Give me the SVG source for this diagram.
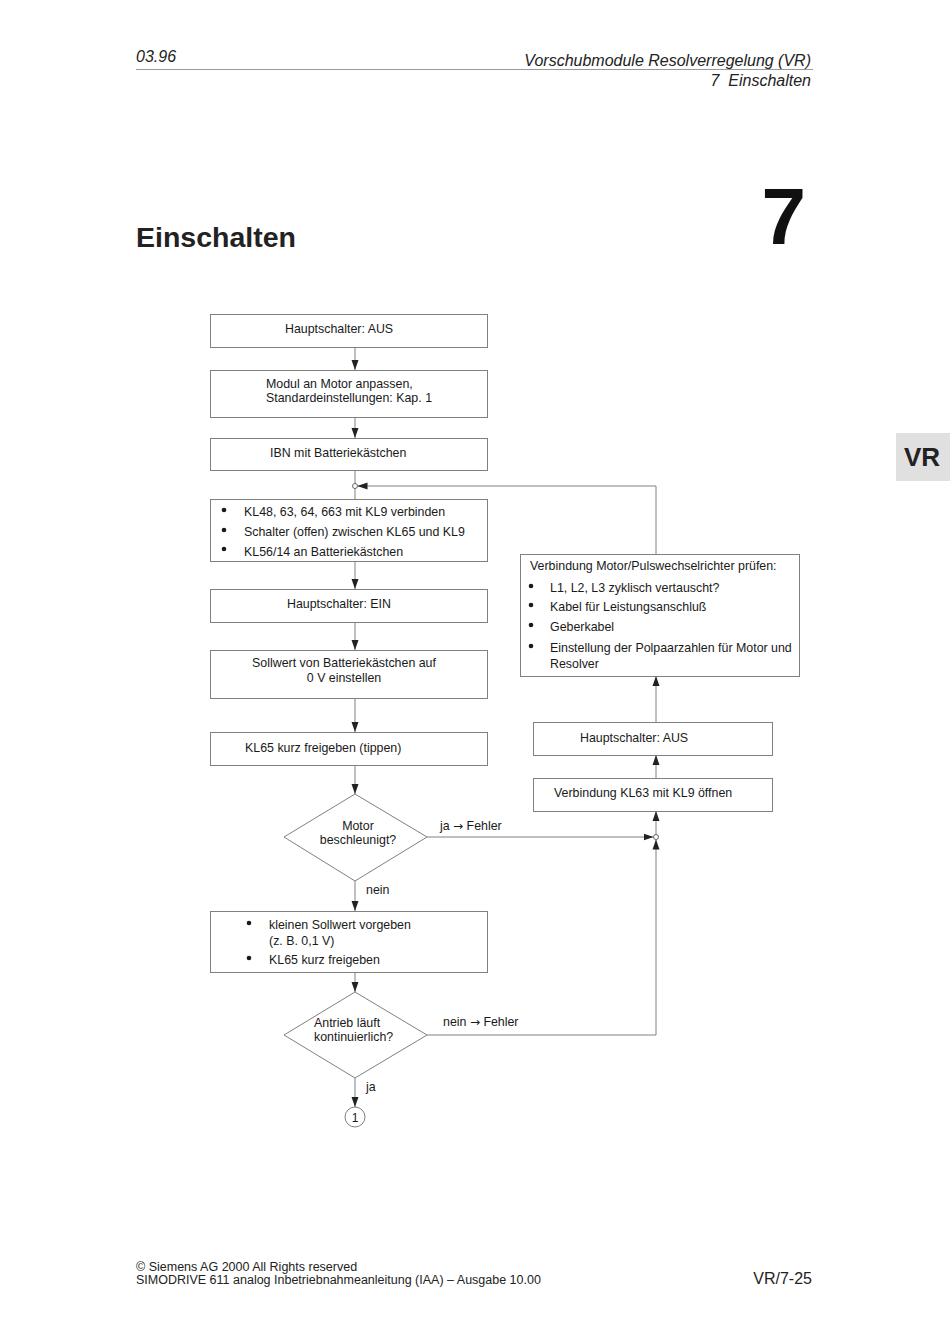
<svg xmlns="http://www.w3.org/2000/svg" width="950" height="1344" viewBox="0 0 950 1344">
<style>
.t{font-family:"Liberation Sans",Arial,sans-serif;font-size:12.4px;fill:#1a1a1a}
.hd{font-family:"Liberation Sans",Arial,sans-serif;font-style:italic;font-size:16px;fill:#222}
.ft{font-family:"Liberation Sans",Arial,sans-serif;font-size:12.5px;fill:#222}
.box{fill:#fff;stroke:#808080;stroke-width:1}
.ln{fill:none;stroke:#808080;stroke-width:1}
.dot{fill:#1a1a1a}
.jn{fill:#fff;stroke:#666;stroke-width:1}
.big{font-family:"DejaVu Sans",sans-serif;font-size:12px}
</style>
<defs>
<marker id="ar" viewBox="0 0 10 10" refX="10" refY="5" markerWidth="10" markerHeight="10" markerUnits="userSpaceOnUse" orient="auto">
<path d="M0,1.5 L10,5 L0,8.5 Z" fill="#222"/>
</marker>
</defs>
<rect width="950" height="1344" fill="#fff"/>

<g id="header">
<text class="hd" x="136" y="62">03.96</text>
<text class="hd" x="811" y="66" text-anchor="end">Vorschubmodule Resolverregelung (VR)</text>
<line x1="136" y1="69.5" x2="813" y2="69.5" stroke="#999" stroke-width="1.2"/>
<text class="hd" x="811" y="86" text-anchor="end" xml:space="preserve">7  Einschalten</text>
<text x="136" y="247" style="font-family:'Liberation Sans',Arial,sans-serif;font-weight:bold;font-size:28.5px;fill:#222">Einschalten</text>
<text x="806" y="244" text-anchor="end" style="font-family:'Liberation Sans',Arial,sans-serif;font-weight:bold;font-size:80px;fill:#111">7</text>
<rect x="896" y="433" width="54" height="48" fill="#e0e0e0"/>
<text x="922" y="466" text-anchor="middle" style="font-family:'Liberation Sans',Arial,sans-serif;font-weight:bold;font-size:26px;fill:#222">VR</text>
</g>

<g id="connectors">
<line class="ln" x1="355" y1="347" x2="355" y2="370" marker-end="url(#ar)"/>
<line class="ln" x1="355" y1="417" x2="355" y2="438" marker-end="url(#ar)"/>
<line class="ln" x1="355" y1="470" x2="355" y2="483.5"/>
<line class="ln" x1="355" y1="488.5" x2="355" y2="499"/>
<line class="ln" x1="355" y1="561" x2="355" y2="589" marker-end="url(#ar)"/>
<line class="ln" x1="355" y1="622" x2="355" y2="650" marker-end="url(#ar)"/>
<line class="ln" x1="355" y1="698" x2="355" y2="732" marker-end="url(#ar)"/>
<line class="ln" x1="355" y1="765" x2="355" y2="794" marker-end="url(#ar)"/>
<line class="ln" x1="355" y1="881" x2="355" y2="911" marker-end="url(#ar)"/>
<line class="ln" x1="355" y1="972" x2="355" y2="992" marker-end="url(#ar)"/>
<line class="ln" x1="355" y1="1078" x2="355" y2="1107" marker-end="url(#ar)"/>
<line class="ln" x1="427" y1="837" x2="653.5" y2="837" marker-end="url(#ar)"/>
<polyline class="ln" points="427,1035 656,1035 656,839.5" marker-end="url(#ar)"/>
<line class="ln" x1="656" y1="834.5" x2="656" y2="811" marker-end="url(#ar)"/>
<line class="ln" x1="656" y1="778" x2="656" y2="755" marker-end="url(#ar)"/>
<line class="ln" x1="656" y1="722" x2="656" y2="676" marker-end="url(#ar)"/>
<polyline class="ln" points="656,554 656,486 357.5,486" marker-end="url(#ar)"/>
<circle class="jn" cx="355" cy="486" r="2.5"/>
<circle class="jn" cx="656" cy="837" r="2.5"/>
<text class="t" x="440" y="830">ja <tspan class="big">→</tspan> Fehler</text>
<text class="t" x="366" y="894">nein</text>
<text class="t" x="443" y="1026">nein <tspan class="big">→</tspan> Fehler</text>
<text class="t" x="366" y="1091">ja</text>
</g>

<g id="n1">
<rect class="box" x="210.5" y="314.5" width="277" height="33"/>
<text class="t" x="285" y="333">Hauptschalter: AUS</text>
</g>
<g id="n2">
<rect class="box" x="210.5" y="370.5" width="277" height="47"/>
<text class="t" x="266" y="388">Modul an Motor anpassen,</text>
<text class="t" x="266" y="402">Standardeinstellungen: Kap. 1</text>
</g>
<g id="n3">
<rect class="box" x="210.5" y="438.5" width="277" height="32"/>
<text class="t" x="270" y="457">IBN mit Batteriekästchen</text>
</g>
<g id="n4">
<rect class="box" x="210.5" y="499.5" width="277" height="62"/>
<circle class="dot" cx="224" cy="510" r="2.3"/>
<circle class="dot" cx="224" cy="530" r="2.3"/>
<circle class="dot" cx="224" cy="549" r="2.3"/>
<text class="t" x="244" y="516">KL48, 63, 64, 663 mit KL9 verbinden</text>
<text class="t" x="244" y="536">Schalter (offen) zwischen KL65 und KL9</text>
<text class="t" x="244" y="556">KL56/14 an Batteriekästchen</text>
</g>
<g id="n5">
<rect class="box" x="210.5" y="589.5" width="277" height="33"/>
<text class="t" x="287" y="608">Hauptschalter: EIN</text>
</g>
<g id="n6">
<rect class="box" x="210.5" y="650.5" width="277" height="48"/>
<text class="t" x="344" y="667" text-anchor="middle">Sollwert von Batteriekästchen auf</text>
<text class="t" x="344" y="682" text-anchor="middle">0 V einstellen</text>
</g>
<g id="n7">
<rect class="box" x="210.5" y="732.5" width="277" height="33"/>
<text class="t" x="245" y="752">KL65 kurz freigeben (tippen)</text>
</g>
<g id="d1">
<polygon class="box" points="355,794 427,837 355,881 284,837"/>
<text class="t" x="358" y="830" text-anchor="middle">Motor</text>
<text class="t" x="358" y="844" text-anchor="middle">beschleunigt?</text>
</g>
<g id="n8">
<rect class="box" x="210.5" y="911.5" width="277" height="61"/>
<circle class="dot" cx="249" cy="923" r="2.3"/>
<circle class="dot" cx="249" cy="958" r="2.3"/>
<text class="t" x="269" y="929">kleinen Sollwert vorgeben</text>
<text class="t" x="269" y="945">(z. B. 0,1 V)</text>
<text class="t" x="269" y="964">KL65 kurz freigeben</text>
</g>
<g id="d2">
<polygon class="box" points="355,992 427,1035 355,1078 284,1035"/>
<text class="t" x="314" y="1027">Antrieb läuft</text>
<text class="t" x="314" y="1041">kontinuierlich?</text>
</g>
<g id="c1">
<circle class="box" cx="355" cy="1117" r="10"/>
<text class="t" x="355" y="1121.5" text-anchor="middle" style="font-size:12px">1</text>
</g>
<g id="r1">
<rect class="box" x="520.5" y="554.5" width="279" height="122"/>
<text class="t" x="530" y="570">Verbindung Motor/Pulswechselrichter prüfen:</text>
<circle class="dot" cx="531" cy="586" r="2.3"/>
<circle class="dot" cx="531" cy="605" r="2.3"/>
<circle class="dot" cx="531" cy="625" r="2.3"/>
<circle class="dot" cx="531" cy="646" r="2.3"/>
<text class="t" x="550" y="592">L1, L2, L3 zyklisch vertauscht?</text>
<text class="t" x="550" y="611">Kabel für Leistungsanschluß</text>
<text class="t" x="550" y="631">Geberkabel</text>
<text class="t" x="550" y="652">Einstellung der Polpaarzahlen für Motor und</text>
<text class="t" x="550" y="668">Resolver</text>
</g>
<g id="r2">
<rect class="box" x="533.5" y="722.5" width="239" height="33"/>
<text class="t" x="580" y="742">Hauptschalter: AUS</text>
</g>
<g id="r3">
<rect class="box" x="533.5" y="778.5" width="239" height="33"/>
<text class="t" x="554" y="797">Verbindung KL63 mit KL9 öffnen</text>
</g>

<g id="footer">
<text class="ft" x="136" y="1271">© Siemens AG 2000 All Rights reserved</text>
<text class="ft" x="136" y="1284">SIMODRIVE 611 analog Inbetriebnahmeanleitung (IAA) – Ausgabe 10.00</text>
<text x="812" y="1284" text-anchor="end" style="font-family:'Liberation Sans',Arial,sans-serif;font-size:16px;fill:#222">VR/7-25</text>
</g>
</svg>
